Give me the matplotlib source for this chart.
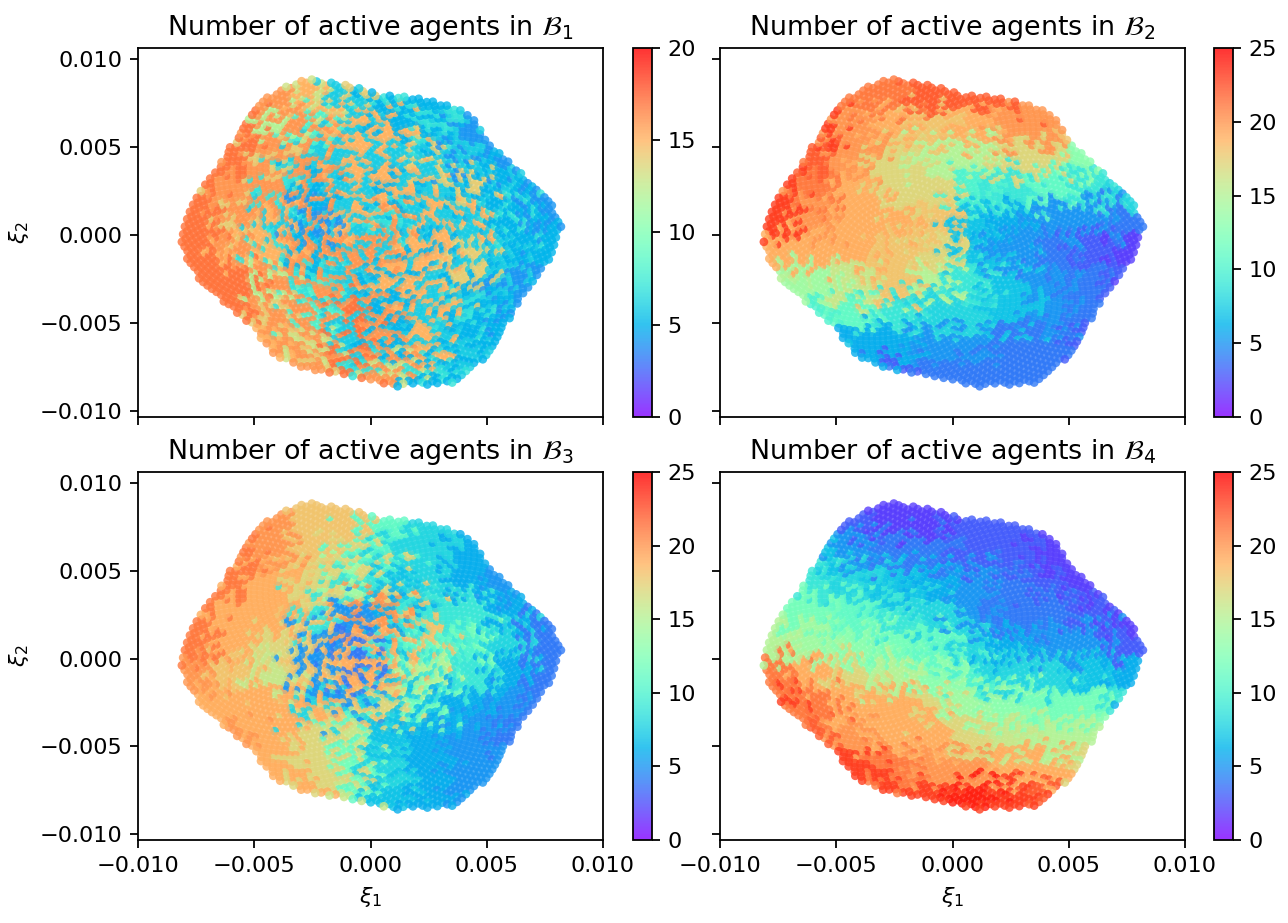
import numpy as np
import matplotlib
matplotlib.use('Agg')
import matplotlib.pyplot as plt
from matplotlib.path import Path

# Outline of the point cloud in the (xi_1, xi_2) plane
outline_x = [-0.0082, -0.0075, -0.0061, -0.0051, -0.0046, -0.0029, -0.0011, 0.0003,
             0.0021, 0.0036, 0.0044, 0.0050, 0.0060, 0.0067, 0.0076, 0.0081, 0.0082,
             0.0078, 0.0067, 0.0058, 0.0050, 0.0036, 0.0011, 0.0000, -0.0020, -0.0033,
             -0.0042, -0.0051, -0.0060, -0.0071, -0.0078, -0.0081]
outline_y = [-0.0001, 0.0022, 0.0049, 0.0069, 0.0078, 0.0089, 0.0086, 0.0080,
             0.0078, 0.0073, 0.0067, 0.0054, 0.0042, 0.0033, 0.0022, 0.0009, 0.0005,
             -0.0012, -0.0031, -0.0052, -0.0069, -0.0084, -0.0086, -0.0083, -0.0078, -0.0074,
             -0.0068, -0.0052, -0.0042, -0.0029, -0.0018, -0.0006]

# Coarse value grids (rows top -> bottom, columns left -> right), two layers
# where front and back points overlap with different counts
b1_front = [[17, 17, 16, 15, 14, 7, 5, 4, 4, 4],
            [18, 17, 16, 16, 15, 15, 7, 6, 4, 4],
            [18, 17, 16, 16, 15, 15, 14, 6, 5, 4],
            [17, 16, 16, 16, 15, 15, 15, 14, 6, 4],
            [17, 16, 15, 16, 15, 16, 15, 15, 7, 5],
            [17, 16, 15, 16, 16, 16, 15, 14, 6, 5],
            [17, 17, 16, 16, 16, 15, 15, 14, 6, 4],
            [17, 17, 16, 16, 17, 16, 15, 7, 5, 4],
            [16, 16, 16, 16, 17, 16, 15, 6, 5, 5],
            [16, 16, 16, 16, 17, 16, 7, 6, 5, 5]]
b1_back = [[17, 17, 16, 13, 6, 5, 5, 4, 4, 4],
           [18, 17, 12, 8, 6, 5, 5, 4, 4, 4],
           [18, 17, 14, 6, 6, 6, 6, 4, 4, 4],
           [17, 16, 7, 5, 6, 5, 6, 5, 5, 4],
           [17, 14, 6, 4, 6, 7, 6, 6, 5, 4],
           [17, 15, 7, 5, 6, 6, 5, 6, 5, 5],
           [17, 17, 12, 7, 6, 5, 6, 5, 4, 4],
           [17, 17, 14, 8, 6, 5, 6, 5, 4, 4],
           [16, 16, 15, 13, 6, 5, 6, 5, 5, 5],
           [16, 16, 16, 14, 7, 13, 5, 5, 5, 5]]

b2_values = [[23, 23, 21, 21, 22, 22, 22, 21, 20, 20],
             [23, 23, 20, 19, 18, 19, 20, 20, 18, 15],
             [23, 22, 20, 17, 15, 15, 17, 17, 13, 12],
             [23, 21, 19, 17, 17, 10, 9, 11, 9, 8],
             [23, 20, 19, 19, 18, 7, 6, 5, 5, 4],
             [19, 19, 19, 18, 17, 7, 5, 4, 3, 2],
             [15, 14, 16, 18, 15, 9, 7, 5, 4, 3],
             [12, 10, 11, 9, 8, 8, 7, 5, 4, 3],
             [8, 7, 6, 6, 5, 5, 4, 4, 3, 3],
             [5, 5, 4, 3, 4, 4, 4, 4, 3, 3]]

b3_front = [[21, 21, 20, 18, 18, 11, 8, 7, 6, 6],
            [21, 21, 20, 18, 17, 10, 8, 6, 6, 5],
            [21, 21, 19, 17, 14, 17, 8, 6, 5, 5],
            [21, 19, 19, 18, 20, 20, 18, 9, 6, 4],
            [21, 19, 17, 18, 19, 19, 18, 12, 8, 4],
            [20, 18, 16, 18, 19, 19, 15, 9, 6, 4],
            [19, 19, 19, 19, 18, 17, 12, 6, 5, 4],
            [20, 20, 19, 17, 16, 7, 6, 5, 4, 4],
            [19, 19, 19, 17, 17, 8, 6, 5, 5, 5],
            [19, 19, 19, 19, 16, 7, 6, 5, 5, 5]]
b3_back = [[21, 21, 20, 18, 18, 11, 8, 7, 6, 6],
           [21, 21, 20, 18, 11, 8, 8, 6, 6, 5],
           [21, 21, 19, 17, 9, 7, 8, 6, 5, 5],
           [21, 19, 19, 9, 5, 6, 9, 9, 6, 4],
           [21, 19, 17, 5, 4, 9, 11, 10, 8, 4],
           [20, 18, 16, 5, 4, 7, 9, 9, 6, 4],
           [19, 19, 19, 8, 5, 8, 7, 6, 5, 4],
           [20, 20, 19, 17, 11, 7, 6, 5, 4, 4],
           [19, 19, 19, 17, 12, 8, 6, 5, 5, 5],
           [19, 19, 19, 19, 11, 7, 6, 5, 5, 5]]

b4_values = [[5, 5, 3, 2, 2, 3, 3, 3, 2, 2],
             [7, 7, 5, 4, 4, 3, 3, 2, 2, 2],
             [9, 9, 8, 7, 6, 5, 4, 3, 2, 2],
             [12, 12, 11, 9, 8, 5, 4, 4, 3, 2],
             [15, 14, 13, 12, 11, 8, 6, 5, 5, 3],
             [21, 19, 17, 15, 13, 10, 8, 8, 7, 6],
             [23, 21, 19, 19, 17, 14, 13, 12, 12, 9],
             [23, 22, 20, 19, 19, 17, 16, 15, 15, 13],
             [23, 23, 23, 21, 20, 20, 19, 19, 17, 15],
             [23, 23, 23, 23, 23, 24, 23, 22, 20, 20]]

panel_titles = [r'Number of active agents in $\mathcal{B}_1$',
                r'Number of active agents in $\mathcal{B}_2$',
                r'Number of active agents in $\mathcal{B}_3$',
                r'Number of active agents in $\mathcal{B}_4$']
color_max = [20, 25, 25, 25]
ticks_b1 = [0, 5, 10, 15, 20]
ticks_rest = [0, 5, 10, 15, 20, 25]

# cell extents of the value tables
x_lo, x_hi = -0.0085, 0.0085
y_lo, y_hi = -0.0090, 0.0090
n_cells = 10

# sunflower layout of the points, clipped to the cloud outline
n_pts = 5000
idx = np.arange(n_pts)
rad = np.sqrt((idx + 0.5) / n_pts) * 1.12
ang = idx * np.pi * (3 - np.sqrt(5))
px = 0.0086 * rad * np.cos(ang)
py = 0.0091 * rad * np.sin(ang)
inside = Path(np.column_stack([outline_x, outline_y])).contains_points(np.column_stack([px, py]))
px, py, idx = px[inside], py[inside], idx[inside]

# front/back membership and a half-cell dither of the table lookup,
# both from quadratic sequences of the point index
q = idx.astype(float) ** 2
layer = ((q * np.sqrt(5)) % 1 < 0.5).astype(int)
jx = (q * np.sqrt(2)) % 1 - 0.5
jy = (q * np.sqrt(3)) % 1 - 0.5
col = np.clip(np.floor((px - x_lo) / (x_hi - x_lo) * n_cells + jx).astype(int), 0, n_cells - 1)
row = np.clip(np.floor((y_hi - py) / (y_hi - y_lo) * n_cells + jy).astype(int), 0, n_cells - 1)


def point_values(front, back):
    front = np.array(front)
    back = np.array(back)
    return np.where(layer == 0, front[row, col], back[row, col])


values = [point_values(b1_front, b1_back),
          point_values(b2_values, b2_values),
          point_values(b3_front, b3_back),
          point_values(b4_values, b4_values)]

W, H = 1288, 923
dpi = 161
fig = plt.figure(figsize=(W / dpi, H / dpi), dpi=dpi)

ax_left = [138, 720]
ax_right = [603, 1185]
cb_left = [633, 1214]
row_top = [48, 472]
row_bot = [417, 840]

for n in range(4):
    r, c = divmod(n, 2)
    ax = fig.add_axes([ax_left[c] / W, 1 - row_bot[r] / H,
                       (ax_right[c] - ax_left[c]) / W, (row_bot[r] - row_top[r]) / H])
    cax = fig.add_axes([cb_left[c] / W, 1 - row_bot[r] / H,
                        19 / W, (row_bot[r] - row_top[r]) / H])
    sc = ax.scatter(px, py, c=values[n], cmap='rainbow', vmin=0, vmax=color_max[n],
                    s=15, alpha=0.8, edgecolors='none')
    ax.set_xlim(-0.010, 0.010)
    ax.set_ylim(-0.01034, 0.01063)
    ax.set_xticks([-0.010, -0.005, 0.0, 0.005, 0.010])
    ax.set_yticks([-0.010, -0.005, 0.0, 0.005, 0.010])
    ax.set_title(panel_titles[n])
    if c == 0:
        ax.set_ylabel(r'$\xi_2$')
    else:
        ax.tick_params(labelleft=False)
    if r == 1:
        ax.set_xlabel(r'$\xi_1$')
    else:
        ax.tick_params(labelbottom=False)
    cb = fig.colorbar(sc, cax=cax)
    cb.set_ticks(ticks_b1 if n == 0 else ticks_rest)

fig.savefig('out.png', dpi=dpi)
